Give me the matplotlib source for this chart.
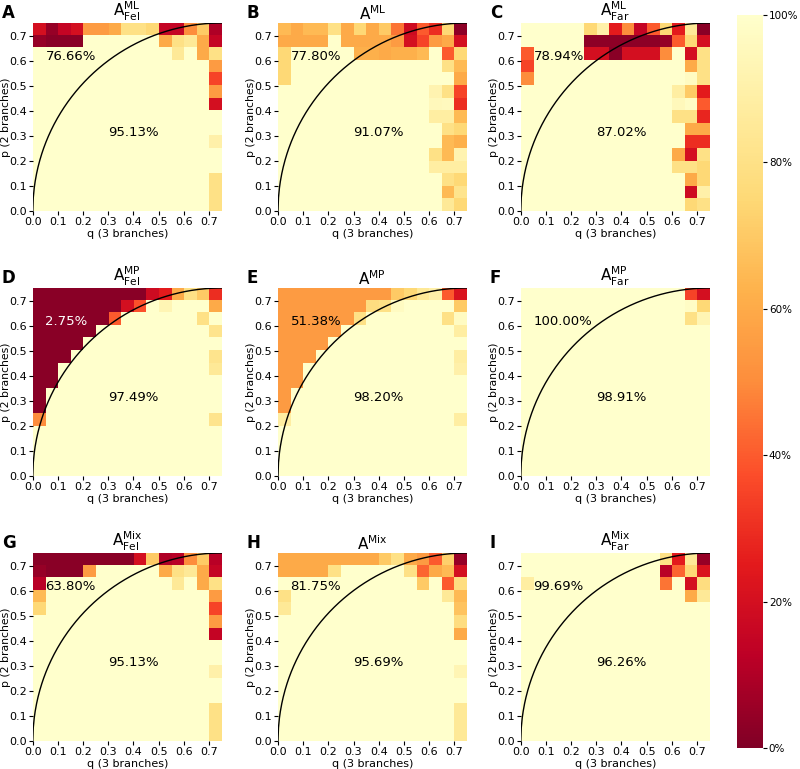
import numpy as np
from matplotlib import pyplot as plt

# valores en porcentaje, fila superior (p = 0.70-0.75) primero, columnas q = 0.00 ... 0.70
W = 100

acc_ml_fel = [
    [20, 5, 15, 20, 55, 55, 60, 80, 80, 75, 15, 15, 50, 70, 10],
    [5, 2, 2, 2, W, W, W, W, W, W, 60, 80, 85, 60, 15],
    [W, W, W, W, W, W, W, W, W, W, W, 85, W, 60, 80],
    [W, W, W, W, W, W, W, W, W, W, W, W, W, W, 55],
    [W, W, W, W, W, W, W, W, W, W, W, W, W, W, 35],
    [W, W, W, W, W, W, W, W, W, W, W, W, W, W, 55],
    [W, W, W, W, W, W, W, W, W, W, W, W, W, W, 20],
    [W, W, W, W, W, W, W, W, W, W, W, W, W, W, W],
    [W, W, W, W, W, W, W, W, W, W, W, W, W, W, W],
    [W, W, W, W, W, W, W, W, W, W, W, W, W, W, 90],
    [W, W, W, W, W, W, W, W, W, W, W, W, W, W, W],
    [W, W, W, W, W, W, W, W, W, W, W, W, W, W, W],
    [W, W, W, W, W, W, W, W, W, W, W, W, W, W, 80],
    [W, W, W, W, W, W, W, W, W, W, W, W, W, W, 80],
    [W, W, W, W, W, W, W, W, W, W, W, W, W, W, 80],
]
acc_ml = [
    [65, 60, 65, 65, 80, 60, 75, 60, 70, 45, 18, 40, 30, 75, 3],
    [60, 60, 60, 60, W, 60, 60, 60, 60, 55, 20, 35, 55, 60, 20],
    [75, W, W, W, W, W, 62, 62, 60, 62, 62, 65, W, 40, 75],
    [75, W, W, W, W, W, W, W, W, W, W, W, W, 80, 65],
    [75, W, W, W, W, W, W, W, W, W, W, W, W, W, 60],
    [W, W, W, W, W, W, W, W, W, W, W, W, 92, 80, 35],
    [W, W, W, W, W, W, W, W, W, W, W, W, 95, 96, 30],
    [W, W, W, W, W, W, W, W, W, W, W, W, 88, 88, 65],
    [W, W, W, W, W, W, W, W, W, W, W, W, W, 80, 75],
    [W, W, W, W, W, W, W, W, W, W, W, W, W, 65, 62],
    [W, W, W, W, W, W, W, W, W, W, W, W, 80, 65, 92],
    [W, W, W, W, W, W, W, W, W, W, W, W, 88, 88, 88],
    [W, W, W, W, W, W, W, W, W, W, W, W, W, 80, 75],
    [W, W, W, W, W, W, W, W, W, W, W, W, W, 65, 82],
    [W, W, W, W, W, W, W, W, W, W, W, W, W, 85, 75],
]
acc_ml_far = [
    [W, W, W, W, W, 75, 90, 25, 50, 15, 40, 75, 25, 85, 2],
    [W, W, W, W, W, 3, 3, 3, 3, 3, 3, 5, 40, 75, 20],
    [40, W, W, W, W, 20, 20, 2, 20, 20, 20, 50, W, 20, 80],
    [35, W, W, W, W, W, W, W, W, W, W, W, W, 60, 80],
    [50, W, W, W, W, W, W, W, W, W, W, W, W, 97, 80],
    [W, W, W, W, W, W, W, W, W, W, W, W, 88, 70, 25],
    [W, W, W, W, W, W, W, W, W, W, W, W, 95, 98, 40],
    [W, W, W, W, W, W, W, W, W, W, W, W, 80, 80, 28],
    [W, W, W, W, W, W, W, W, W, W, W, W, W, 60, 60],
    [W, W, W, W, W, W, W, W, W, W, W, W, W, 30, 30],
    [W, W, W, W, W, W, W, W, W, W, W, W, 60, 20, 80],
    [W, W, W, W, W, W, W, W, W, W, W, W, 80, 80, 75],
    [W, W, W, W, W, W, W, W, W, W, W, W, W, 60, 75],
    [W, W, W, W, W, W, W, W, W, W, W, W, W, 18, 90],
    [W, W, W, W, W, W, W, W, W, W, W, W, W, 75, 80],
]
acc_mp_fel = [
    [2, 2, 2, 2, 2, 2, 2, 2, 2, 18, 25, 60, 80, 70, 30],
    [2, 2, 2, 2, 2, 2, 2, 20, 38, W, 93, W, W, W, 60],
    [2, 2, 2, 2, 2, 2, 40, W, W, W, W, W, W, 80, W],
    [2, 2, 2, 2, 2, W, W, W, W, W, W, W, W, W, 82],
    [2, 2, 2, 2, W, W, W, W, W, W, W, W, W, W, W],
    [2, 2, 2, W, W, W, W, W, W, W, W, W, W, W, 82],
    [2, 2, W, W, W, W, W, W, W, W, W, W, W, W, 85],
    [2, 2, W, W, W, W, W, W, W, W, W, W, W, W, W],
    [2, W, W, W, W, W, W, W, W, W, W, W, W, W, W],
    [2, W, W, W, W, W, W, W, W, W, W, W, W, W, W],
    [50, W, W, W, W, W, W, W, W, W, W, W, W, W, 82],
    [W, W, W, W, W, W, W, W, W, W, W, W, W, W, W],
    [W, W, W, W, W, W, W, W, W, W, W, W, W, W, W],
    [W, W, W, W, W, W, W, W, W, W, W, W, W, W, W],
    [W, W, W, W, W, W, W, W, W, W, W, W, W, W, W],
]
acc_mp = [
    [55, 55, 55, 55, 55, 55, 55, 55, 55, 70, 75, 85, 90, 40, 22],
    [55, 55, 55, 55, 55, 55, 55, 78, 80, 97, W, W, W, W, 70],
    [55, 55, 55, 55, 55, 55, 80, W, W, W, W, W, W, 80, 97],
    [55, 55, 55, 55, 55, W, W, W, W, W, W, W, W, W, 88],
    [55, 55, 55, 55, W, W, W, W, W, W, W, W, W, W, W],
    [55, 55, 55, W, W, W, W, W, W, W, W, W, W, W, 88],
    [55, 55, W, W, W, W, W, W, W, W, W, W, W, W, 90],
    [55, 55, W, W, W, W, W, W, W, W, W, W, W, W, W],
    [55, W, W, W, W, W, W, W, W, W, W, W, W, W, W],
    [55, W, W, W, W, W, W, W, W, W, W, W, W, W, W],
    [88, W, W, W, W, W, W, W, W, W, W, W, W, W, 88],
    [W, W, W, W, W, W, W, W, W, W, W, W, W, W, W],
    [W, W, W, W, W, W, W, W, W, W, W, W, W, W, W],
    [W, W, W, W, W, W, W, W, W, W, W, W, W, W, W],
    [W, W, W, W, W, W, W, W, W, W, W, W, W, W, W],
]
acc_mp_far = [
    [W, W, W, W, W, W, W, W, W, W, W, W, W, 35, 20],
    [W, W, W, W, W, W, W, W, W, W, W, W, W, 98, 75],
    [W, W, W, W, W, W, W, W, W, W, W, W, W, 80, 93],
] + [[W] * 15 for _ in range(12)]
acc_mix_fel = [
    [2, 2, 2, 2, 2, 2, 2, 2, 20, 70, 10, 12, 50, 70, 12],
    [5, 2, 2, 2, 55, W, W, W, W, W, 60, 80, 85, 60, 15],
    [12, W, W, W, W, W, W, W, W, W, W, 85, W, 60, 80],
    [65, W, W, W, W, W, W, W, W, W, W, W, W, W, 55],
    [75, W, W, W, W, W, W, W, W, W, W, W, W, W, 35],
    [W, W, W, W, W, W, W, W, W, W, W, W, W, W, 55],
    [W, W, W, W, W, W, W, W, W, W, W, W, W, W, 15],
    [W, W, W, W, W, W, W, W, W, W, W, W, W, W, W],
    [W, W, W, W, W, W, W, W, W, W, W, W, W, W, W],
    [W, W, W, W, W, W, W, W, W, W, W, W, W, W, 90],
    [W, W, W, W, W, W, W, W, W, W, W, W, W, W, W],
    [W, W, W, W, W, W, W, W, W, W, W, W, W, W, W],
    [W, W, W, W, W, W, W, W, W, W, W, W, W, W, 80],
    [W, W, W, W, W, W, W, W, W, W, W, W, W, W, 80],
    [W, W, W, W, W, W, W, W, W, W, W, W, W, W, 80],
]
acc_mix = [
    [60, 60, 60, 60, 60, 60, 60, 60, 70, 80, 60, 55, 40, 72, 5],
    [60, 60, 60, 60, 80, W, W, W, W, W, 80, 42, 60, 65, 20],
    [W, W, W, W, W, W, W, W, W, W, W, 70, W, 40, 78],
    [80, W, W, W, W, W, W, W, W, W, W, W, W, 85, 65],
    [85, W, W, W, W, W, W, W, W, W, W, W, W, W, 68],
    [W, W, W, W, W, W, W, W, W, W, W, W, W, W, 78],
    [W, W, W, W, W, W, W, W, W, W, W, W, W, W, 60],
    [W, W, W, W, W, W, W, W, W, W, W, W, W, W, W],
    [W, W, W, W, W, W, W, W, W, W, W, W, W, W, W],
    [W, W, W, W, W, W, W, W, W, W, W, W, W, W, 93],
    [W, W, W, W, W, W, W, W, W, W, W, W, W, W, W],
    [W, W, W, W, W, W, W, W, W, W, W, W, W, W, W],
    [W, W, W, W, W, W, W, W, W, W, W, W, W, W, 85],
    [W, W, W, W, W, W, W, W, W, W, W, W, W, W, 85],
    [W, W, W, W, W, W, W, W, W, W, W, W, W, W, 85],
]
acc_mix_far = [
    [W, W, W, W, W, W, W, W, W, W, W, 80, 25, 85, 5],
    [W, W, W, W, W, W, W, W, W, W, W, 12, 42, 75, 22],
    [88, W, W, W, W, W, W, W, W, W, W, 45, W, 20, 78],
    [W, W, W, W, W, W, W, W, W, W, W, W, W, 60, 85],
] + [[W] * 15 for _ in range(11)]

grids = [acc_ml_fel, acc_ml, acc_ml_far,
         acc_mp_fel, acc_mp, acc_mp_far,
         acc_mix_fel, acc_mix, acc_mix_far]
titles = [r'$A^{ML}_{Fel}$', r'$A^{ML}$', r'$A^{ML}_{Far}$',
          r'$A^{MP}_{Fel}$', r'$A^{MP}$', r'$A^{MP}_{Far}$',
          r'$A^{Mix}_{Fel}$', r'$A^{Mix}$', r'$A^{Mix}_{Far}$']
letters = ['A', 'B', 'C', 'D', 'E', 'F', 'G', 'H', 'I']
upper_pct = ['76.66%', '77.80%', '78.94%', '2.75%', '51.38%', '100.00%',
             '63.80%', '81.75%', '99.69%']
lower_pct = ['95.13%', '91.07%', '87.02%', '97.49%', '98.20%', '98.91%',
             '95.13%', '95.69%', '96.26%']
upper_color = ['black', 'black', 'black', 'white', 'black', 'black',
               'black', 'black', 'black']

plt.rcParams['mathtext.default'] = 'regular'

fig = plt.figure(figsize=(8, 7.69), dpi=100)
lefts = [0.041, 0.3475, 0.651]
bottoms = [0.7256, 0.381, 0.0364]
w, h = 0.236, 0.2445
ticks = np.arange(0, 0.75, 0.1)

# frontera teorica (cuarto de circulo)
qc = np.linspace(0, 0.75, 400)
pc = np.sqrt(qc * (1.5 - qc))

for k in range(9):
    ax = fig.add_axes([lefts[k % 3], bottoms[k // 3], w, h])
    data = np.array(grids[k]) / 100.0
    im = ax.imshow(data, cmap='YlOrRd_r', vmin=0, vmax=1, origin='upper',
                   extent=[0, 0.75, 0, 0.75], aspect='auto', interpolation='nearest')
    ax.plot(qc, pc, color='black', lw=1)
    ax.set_xlim(0, 0.75)
    ax.set_ylim(0, 0.75)
    ax.set_xticks(ticks)
    ax.set_yticks(ticks)
    ax.set_xticklabels(['%.1f' % t for t in ticks])
    ax.set_yticklabels(['%.1f' % t for t in ticks])
    ax.tick_params(labelsize=8, length=3, pad=1.5)
    for s in ax.spines.values():
        s.set_visible(False)
    ax.set_xlabel('q (3 branches)', fontsize=8, labelpad=1)
    ax.set_ylabel('p (2 branches)', fontsize=7.8)
    ax.yaxis.set_label_coords(-0.118, 0.5)
    ax.set_title(titles[k], fontsize=11, pad=2)
    ax.text(-0.165, 1.1, letters[k], transform=ax.transAxes, fontsize=12,
            fontweight='bold', va='top', ha='left')
    ax.text(0.05, 0.615, upper_pct[k], fontsize=9.5, color=upper_color[k],
            ha='left', va='center')
    ax.text(0.3, 0.315, lower_pct[k], fontsize=9.5, color='black',
            ha='left', va='center')

cax = fig.add_axes([0.921, 0.027, 0.033, 0.953])
cb = fig.colorbar(im, cax=cax, ticks=[0, 0.2, 0.4, 0.6, 0.8, 1.0])
cb.ax.set_yticklabels(['0%', '20%', '40%', '60%', '80%', '100%'])
cb.ax.tick_params(labelsize=7.5, length=3, pad=1)
cb.outline.set_visible(False)

plt.savefig('out.png', dpi=100)
